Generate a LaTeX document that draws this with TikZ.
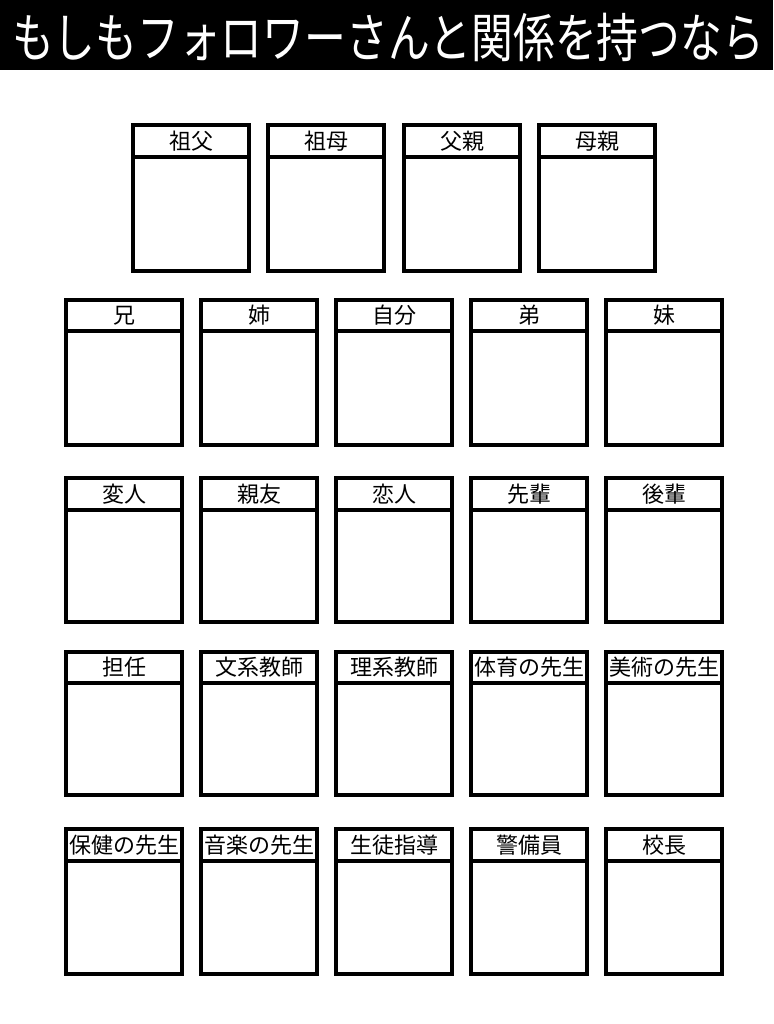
\documentclass[tikz,border=0pt]{standalone}
\usepackage{fontspec}
\newfontfamily\jp{Noto Sans CJK JP}
\usetikzlibrary{positioning}
\tikzset{
  cardbox/.style={draw=black, line width=4.6pt, fill=white, minimum width=116pt, anchor=north west, inner sep=0pt, outer sep=0pt},
  cardhead/.style={draw=black, line width=3.4pt, minimum width=116pt, anchor=north west, inner sep=0pt, outer sep=0pt, font=\jp\fontsize{22pt}{22pt}\selectfont, text=black},
  titlebar/.style={fill=black, draw=none, anchor=north west, minimum width=773pt, minimum height=70pt, inner sep=0pt, outer sep=0pt},
  titletext/.style={text=white, font=\jp\fontsize{56pt}{56pt}\selectfont, inner sep=0pt}
}
% \mycard{id}{left}{top}{bottom}{sep}{label}
\newcommand{\mycard}[6]{%
  \pgfmathsetmacro{\cardh}{#4-#3}%
  \pgfmathsetmacro{\headh}{#5-#3}%
  \node[cardbox, minimum height=\cardh pt] (#1) at (#2,#3) {};
  \node[cardhead, minimum height=\headh pt] (#1-h) at (#2,#3) {#6};
  \draw[line width=4.6pt] (#1.north west) rectangle (#1.south east);
}
\begin{document}
\begin{tikzpicture}[x=1pt,y=-1pt]
\useasboundingbox[fill=white] (0,0) rectangle (773,1024);
\node[titlebar] (bar) at (0,0) {};
\node[titletext] (title) at (388,37) {\resizebox{752pt}{!}{\scalebox{0.79}[1]{もしもフォロワーさんと関係を持つなら}}};
% row 1
\mycard{r1a}{133}{125}{271}{157}{祖父}
\mycard{r1b}{268}{125}{271}{157}{祖母}
\mycard{r1c}{404}{125}{271}{157}{父親}
\mycard{r1d}{539}{125}{271}{157}{母親}
% row 2
\mycard{r2a}{66}{300}{445}{331}{兄}
\mycard{r2b}{201}{300}{445}{331}{姉}
\mycard{r2c}{336}{300}{445}{331}{自分}
\mycard{r2d}{471}{300}{445}{331}{弟}
\mycard{r2e}{606}{300}{445}{331}{妹}
% row 3
\mycard{r3a}{66}{478}{622}{510}{変人}
\mycard{r3b}{201}{478}{622}{510}{親友}
\mycard{r3c}{336}{478}{622}{510}{恋人}
\mycard{r3d}{471}{478}{622}{510}{先輩}
\mycard{r3e}{606}{478}{622}{510}{後輩}
% row 4
\mycard{r4a}{66}{652}{795}{683}{担任}
\mycard{r4b}{201}{652}{795}{683}{文系教師}
\mycard{r4c}{336}{652}{795}{683}{理系教師}
\mycard{r4d}{471}{652}{795}{683}{体育の先生}
\mycard{r4e}{606}{652}{795}{683}{美術の先生}
% row 5
\mycard{r5a}{66}{829}{974}{861}{保健の先生}
\mycard{r5b}{201}{829}{974}{861}{音楽の先生}
\mycard{r5c}{336}{829}{974}{861}{生徒指導}
\mycard{r5d}{471}{829}{974}{861}{警備員}
\mycard{r5e}{606}{829}{974}{861}{校長}
\end{tikzpicture}
\end{document}
